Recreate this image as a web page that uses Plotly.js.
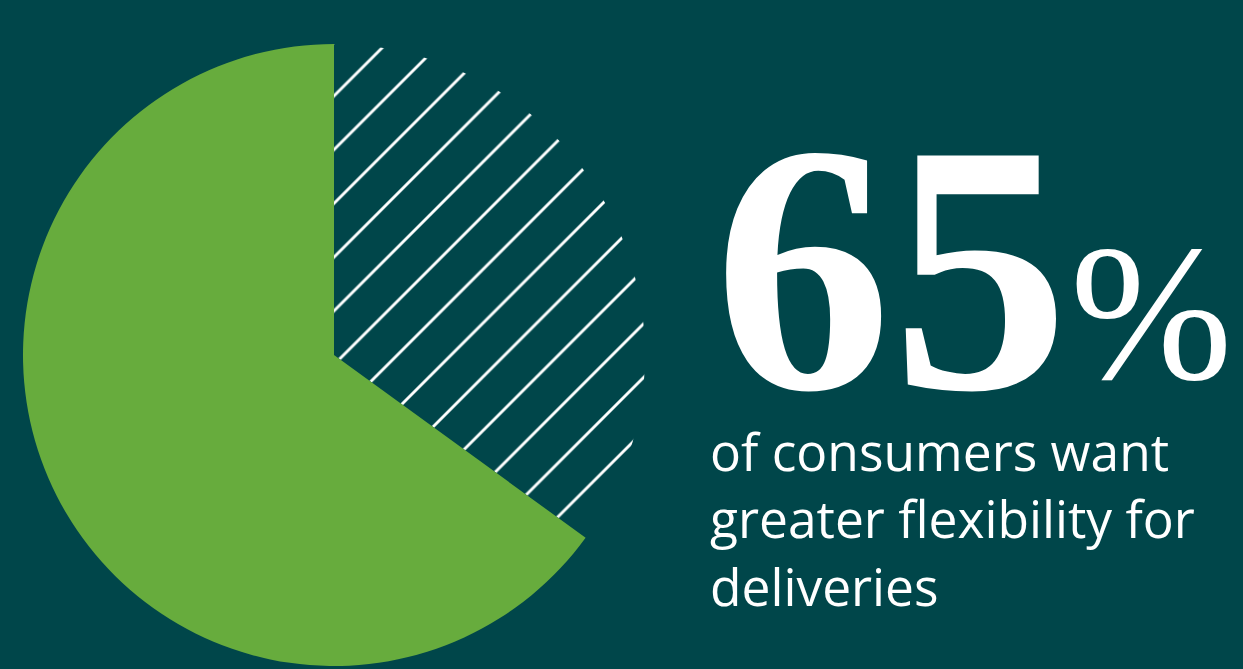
<!DOCTYPE html>
<html>
<head>
<meta charset="utf-8">
<script src="https://cdn.plot.ly/plotly-3.0.1.min.js"></script>
<style>
html,body{margin:0;padding:0;background:#00464A;}
#chart{width:1243px;height:669px;}
</style>
</head>
<body>
<div id="chart"></div>
<script>
// Data
const sliceLabels = ["Other", "Want greater flexibility"];
const sliceValues = [35, 65];
const bigNumber = "65";
const bigSuffix = "%";
const captionLines = ["of consumers want", "greater flexibility for", "deliveries"];

const BG = "#00464A";
const GREEN = "#67AC3D";
const W = 1243, H = 669;

const trace = {
  type: "pie",
  labels: sliceLabels,
  values: sliceValues,
  sort: false,
  direction: "clockwise",
  rotation: 0,
  textinfo: "none",
  hoverinfo: "none",
  showlegend: false,
  domain: {x: [(334 - 311) / W, (334 + 311) / W], y: [(H - 666) / H, (H - 44) / H]},
  marker: {
    colors: [BG, GREEN],
    line: {width: 0},
    pattern: {
      shape: ["/", ""],
      fgcolor: "#FFFFFF",
      fgopacity: 1,
      bgcolor: BG,
      size: 38,
      solidity: 0.075,
      fillmode: "overlay"
    }
  }
};

const annotations = [
  {
    xref: "paper", yref: "paper",
    x: 712 / W, y: (H - 268) / H,
    xanchor: "left", yanchor: "middle",
    showarrow: false,
    text: bigNumber,
    font: {family: "Liberation Serif", size: 355, color: "#FFFFFF", weight: 700}
  },
  {
    xref: "paper", yref: "paper",
    x: 1068 / W, y: (H - 312) / H,
    xanchor: "left", yanchor: "middle",
    showarrow: false,
    text: bigSuffix,
    font: {family: "Liberation Serif", size: 195, color: "#FFFFFF"}
  }
];
const lineY = [451, 518, 586];
captionLines.forEach((t, i) => {
  annotations.push({
    xref: "paper", yref: "paper",
    x: 708 / W, y: (H - lineY[i]) / H,
    xanchor: "left", yanchor: "middle",
    showarrow: false,
    text: t,
    font: {family: "Open Sans", size: 51.5, color: "#FFFFFF"}
  });
});

const layout = {
  width: W, height: H,
  margin: {l: 0, r: 0, t: 0, b: 0},
  paper_bgcolor: BG,
  plot_bgcolor: BG,
  showlegend: false,
  annotations: annotations
};

Plotly.newPlot("chart", [trace], layout, {displayModeBar: false, staticPlot: true});
</script>
</body>
</html>
